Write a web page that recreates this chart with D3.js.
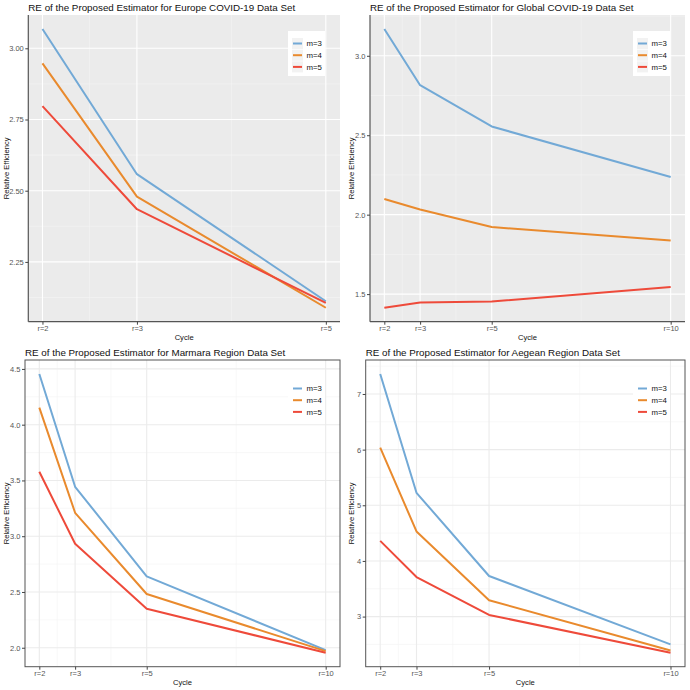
<!DOCTYPE html>
<html>
<head>
<meta charset="utf-8">
<script src="https://cdn.jsdelivr.net/npm/d3@7"></script>
<style>
  html, body { margin: 0; padding: 0; background: #ffffff; }
  svg { display: block; font-family: "Liberation Sans", Arial, sans-serif; }
</style>
</head>
<body>
<svg id="chart" width="690" height="690"></svg>
<script>
// ---------------- DATA ----------------
const seriesNames = ["m=3", "m=4", "m=5"];

const europeCycles = [2, 3, 5];
const europeM3 = [3.068, 2.558, 2.112];
const europeM4 = [2.947, 2.479, 2.089];
const europeM5 = [2.797, 2.435, 2.106];
const europeYTicks = [2.25, 2.50, 2.75, 3.00];

const globalCycles = [2, 3, 5, 10];
const globalM3 = [3.169, 2.815, 2.555, 2.237];
const globalM4 = [2.099, 2.032, 1.922, 1.838];
const globalM5 = [1.414, 1.447, 1.453, 1.544];
const globalYTicks = [1.5, 2.0, 2.5, 3.0];

const marmaraCycles = [2, 3, 5, 10];
const marmaraM3 = [4.455, 3.443, 2.640, 1.978];
const marmaraM4 = [4.153, 3.210, 2.482, 1.970];
const marmaraM5 = [3.578, 2.932, 2.350, 1.955];
const marmaraYTicks = [2.0, 2.5, 3.0, 3.5, 4.0, 4.5];

const aegeanCycles = [2, 3, 5, 10];
const aegeanM3 = [7.36, 5.224, 3.729, 2.50];
const aegeanM4 = [6.036, 4.53, 3.294, 2.39];
const aegeanM5 = [4.361, 3.711, 3.03, 2.35];
const aegeanYTicks = [3, 4, 5, 6, 7];

const titles = [
  "RE of the Proposed Estimator for Europe COVID-19 Data Set",
  "RE of the Proposed Estimator for Global COVID-19 Data Set",
  "RE of the Proposed Estimator for Marmara Region Data Set",
  "RE of the Proposed Estimator for Aegean Region Data Set"
];
const xTitle = "Cycle";
const yTitle = "Relative Efficiency";

// ---------------- STYLE ----------------
const colors = ["#72A9D6", "#E98A2D", "#EE4A3A"];

const svg = d3.select("#chart");

function minorBreaks(b, lo, hi) {
  const bd = b[1] - b[0];
  let ext = b.slice();
  if (lo < ext[0]) ext.unshift(ext[0] - bd);
  if (hi > ext[ext.length - 1]) ext.push(ext[ext.length - 1] + bd);
  const out = [];
  for (let i = 0; i < ext.length - 1; i++) out.push((ext[i] + ext[i + 1]) / 2);
  return out.filter(v => v >= lo && v <= hi);
}

function drawPanel(cfg) {
  const g = svg.append("g").attr("transform", `translate(${cfg.ox},${cfg.oy})`);
  const L = cfg.left, R = 340, T = 15, B = 321.7;

  const xs = cfg.cycles;
  const xMin = d3.min(xs), xMax = d3.max(xs);
  const xPad = (xMax - xMin) * 0.05;
  const x = d3.scaleLinear().domain([xMin - xPad, xMax + xPad]).range([L, R]);

  const all = cfg.series.flat();
  const yMin = d3.min(all), yMax = d3.max(all);
  const yPad = (yMax - yMin) * 0.05;
  const y = d3.scaleLinear().domain([yMin - yPad, yMax + yPad]).range([B, T]);

  const bw = cfg.theme === "bw";
  g.append("rect").attr("x", L).attr("y", T).attr("width", R - L).attr("height", B - T)
    .attr("fill", bw ? "#FFFFFF" : "#EBEBEB");

  const majorCol = bw ? "#EBEBEB" : "#FFFFFF";
  const minorCol = bw ? "#F4F4F4" : "#F5F5F5";

  const yMinor = minorBreaks(cfg.yTicks, y.domain()[0], y.domain()[1]);
  const xMinor = minorBreaks(xs, x.domain()[0], x.domain()[1]);
  g.selectAll(".ymin").data(yMinor).enter().append("line")
    .attr("x1", L).attr("x2", R).attr("y1", d => y(d)).attr("y2", d => y(d))
    .attr("stroke", minorCol).attr("stroke-width", 0.6);
  g.selectAll(".xmin").data(xMinor).enter().append("line")
    .attr("y1", T).attr("y2", B).attr("x1", d => x(d)).attr("x2", d => x(d))
    .attr("stroke", minorCol).attr("stroke-width", 0.6);
  g.selectAll(".ymaj").data(cfg.yTicks).enter().append("line")
    .attr("x1", L).attr("x2", R).attr("y1", d => y(d)).attr("y2", d => y(d))
    .attr("stroke", majorCol).attr("stroke-width", 1.1);
  g.selectAll(".xmaj").data(xs).enter().append("line")
    .attr("y1", T).attr("y2", B).attr("x1", d => x(d)).attr("x2", d => x(d))
    .attr("stroke", majorCol).attr("stroke-width", 1.1);

  const line = d3.line().x(d => x(d[0])).y(d => y(d[1]));
  cfg.series.forEach((s, i) => {
    g.append("path").datum(xs.map((c, j) => [c, s[j]]))
      .attr("d", line).attr("fill", "none")
      .attr("stroke", colors[i]).attr("stroke-width", 2)
      .attr("stroke-linejoin", "round");
  });

  if (bw) {
    g.append("rect").attr("x", L).attr("y", T).attr("width", R - L).attr("height", B - T)
      .attr("fill", "none").attr("stroke", "#555555").attr("stroke-width", 1);
  } else {
    g.append("line").attr("x1", L).attr("x2", L).attr("y1", T).attr("y2", B)
      .attr("stroke", "#555555").attr("stroke-width", 1.2);
    g.append("line").attr("x1", L).attr("x2", R).attr("y1", B).attr("y2", B)
      .attr("stroke", "#555555").attr("stroke-width", 1.2);
  }

  const xAxis = d3.axisBottom(x).tickValues(xs).tickFormat(d => "r=" + d)
    .tickSize(3).tickSizeOuter(0);
  const xa = g.append("g").attr("transform", `translate(0,${B})`).call(xAxis);
  xa.select(".domain").remove();
  xa.selectAll(".tick line").attr("stroke", "#444444");
  xa.selectAll(".tick text").attr("fill", "#555555").attr("font-size", 7.5)
    .attr("font-family", "Liberation Sans, Arial, sans-serif").attr("dy", "0.75em").attr("y", 4);

  const yAxis = d3.axisLeft(y).tickValues(cfg.yTicks).tickFormat(d3.format(cfg.yFmt))
    .tickSize(3).tickSizeOuter(0);
  const ya = g.append("g").attr("transform", `translate(${L},0)`).call(yAxis);
  ya.select(".domain").remove();
  ya.selectAll(".tick line").attr("stroke", "#444444");
  ya.selectAll(".tick text").attr("fill", "#555555").attr("font-size", 7.5)
    .attr("font-family", "Liberation Sans, Arial, sans-serif").attr("x", -4.5);

  g.append("text").attr("x", L).attr("y", 11).text(cfg.title)
    .attr("font-size", 9.8).attr("fill", "#111111");
  g.append("text").attr("x", (L + R) / 2).attr("y", 340).attr("text-anchor", "middle")
    .text(xTitle).attr("font-size", 7.6).attr("fill", "#111111");
  g.append("text").attr("transform", `translate(8.5,${(T + B) / 2}) rotate(-90)`)
    .attr("text-anchor", "middle").text(yTitle).attr("font-size", 7.6).attr("fill", "#111111");

  const lg = g.append("g").attr("transform", "translate(288,31)");
  lg.append("rect").attr("width", 37).attr("height", 45).attr("fill", "#FFFFFF");
  seriesNames.forEach((n, i) => {
    const cy = 12.5 + i * 11.7;
    if (!bw) {
      lg.append("rect").attr("x", 4).attr("y", cy - 5.5).attr("width", 11).attr("height", 11)
        .attr("fill", "#F2F2F2");
    }
    lg.append("line").attr("x1", 5).attr("x2", 14).attr("y1", cy).attr("y2", cy)
      .attr("stroke", colors[i]).attr("stroke-width", 2);
    lg.append("text").attr("x", 18.5).attr("y", cy + 2.8).text(n)
      .attr("font-size", 7.8).attr("fill", "#111111");
  });
}

const panels = [
  { ox: 0, oy: 0, left: 28.3, theme: "gray", cycles: europeCycles,
    series: [europeM3, europeM4, europeM5], yTicks: europeYTicks, yFmt: ".2f", title: titles[0] },
  { ox: 345, oy: 0, left: 25, theme: "gray", cycles: globalCycles,
    series: [globalM3, globalM4, globalM5], yTicks: globalYTicks, yFmt: ".1f", title: titles[1] },
  { ox: 0, oy: 345, left: 25, theme: "bw", cycles: marmaraCycles,
    series: [marmaraM3, marmaraM4, marmaraM5], yTicks: marmaraYTicks, yFmt: ".1f", title: titles[2] },
  { ox: 345, oy: 345, left: 20.7, theme: "bw", cycles: aegeanCycles,
    series: [aegeanM3, aegeanM4, aegeanM5], yTicks: aegeanYTicks, yFmt: "d", title: titles[3] }
];
panels.forEach(drawPanel);
</script>
</body>
</html>
